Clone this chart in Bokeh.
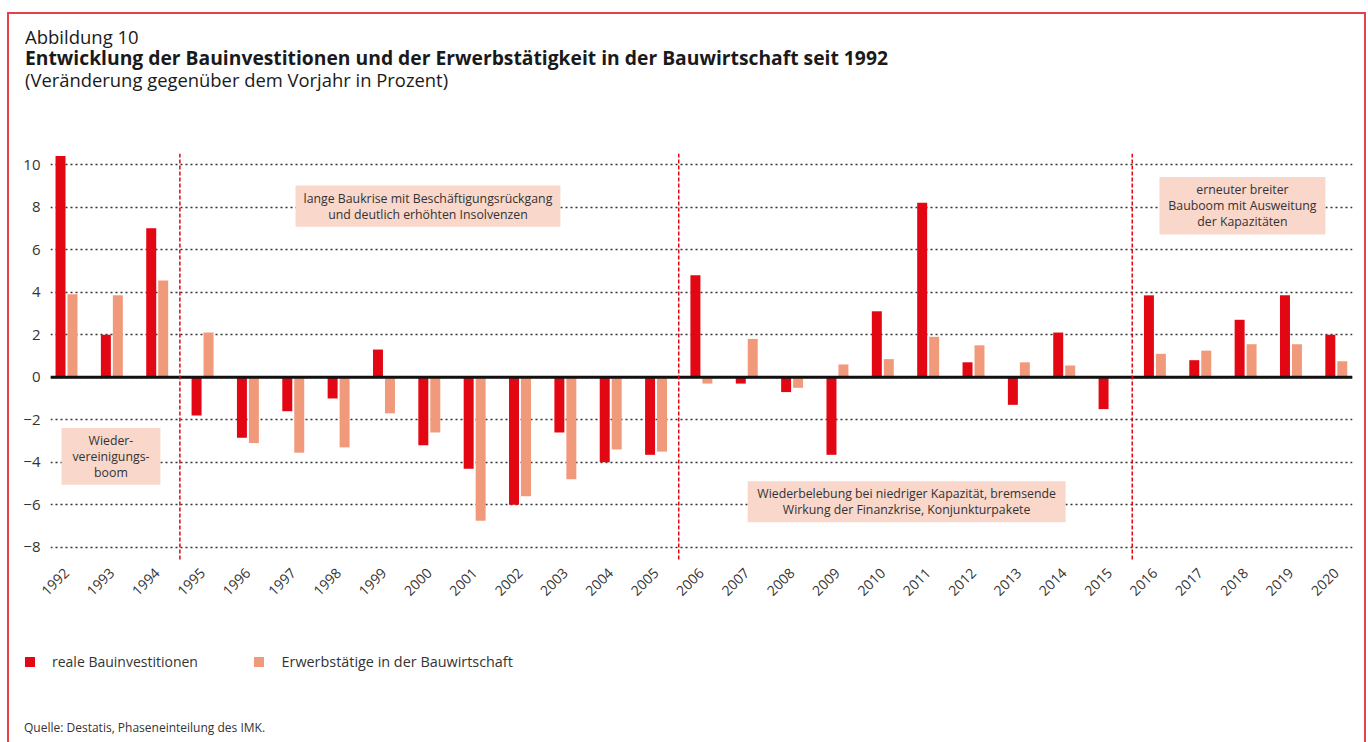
import math
from bokeh.plotting import figure
from bokeh.layouts import column
from bokeh.models import (Range1d, FixedTicker, CustomJSTickFormatter, Span,
                          BoxAnnotation, Label, ColumnDataSource, Div)
from bokeh.transform import dodge
from bokeh.embed import file_html
from bokeh.resources import INLINE

# ---------------- data ----------------
years = [1992, 1993, 1994, 1995, 1996, 1997, 1998, 1999, 2000, 2001,
         2002, 2003, 2004, 2005, 2006, 2007, 2008, 2009, 2010, 2011,
         2012, 2013, 2014, 2015, 2016, 2017, 2018, 2019, 2020]
invest = [10.4, 2.0, 7.0, -1.8, -2.85, -1.6, -1.0, 1.3, -3.2, -4.3,
          -6.0, -2.6, -4.0, -3.65, 4.8, -0.3, -0.7, -3.65, 3.1, 8.2,
          0.7, -1.3, 2.1, -1.5, 3.85, 0.8, 2.7, 3.85, 2.0]
employ = [3.9, 3.85, 4.55, 2.1, -3.1, -3.55, -3.3, -1.7, -2.6, -6.75,
          -5.6, -4.8, -3.4, -3.5, -0.3, 1.8, -0.5, 0.6, 0.85, 1.9,
          1.5, 0.7, 0.55, 0.0, 1.1, 1.25, 1.55, 1.55, 0.75]
y_ticks = [-8, -6, -4, -2, 0, 2, 4, 6, 8, 10]
phase_breaks = [1994.5, 2005.5, 2015.5]

series_names = ["reale Bauinvestitionen", "Erwerbstätige in der Bauwirtschaft"]
title_small = "Abbildung 10"
title_bold = "Entwicklung der Bauinvestitionen und der Erwerbstätigkeit in der Bauwirtschaft seit 1992"
subtitle = "(Veränderung gegenüber dem Vorjahr in Prozent)"
source_note = "Quelle: Destatis, Phaseneinteilung des IMK."

phase_texts = ["Wieder-\nvereinigungs-\nboom",
               "lange Baukrise mit Beschäftigungsrückgang\nund deutlich erhöhten Insolvenzen",
               "Wiederbelebung bei niedriger Kapazität, bremsende\nWirkung der Finanzkrise, Konjunkturpakete",
               "erneuter breiter\nBauboom mit Ausweitung\nder Kapazitäten"]

# ---------------- style ----------------
FONT = "Open Sans"
RED = "#e30613"
SALMON = "#f19a7b"
BOX = "#f9d7ca"
TXT = "#333333"
FRAME = "#e5414b"
W = 1368
H_TOP, H_MID, H_BOT = 145, 480, 117


def abs_text(txt, left, top, size, weight="normal", color="#1a1a1a"):
    return (f'<div style="position:absolute;left:{left}px;top:{top}px;'
            f'font-size:{size}px;line-height:1;font-weight:{weight};'
            f'color:{color};white-space:nowrap;">{txt}</div>')


def abs_square(left, top, color):
    return (f'<div style="position:absolute;left:{left}px;top:{top}px;'
            f'width:10px;height:10px;background:{color};"></div>')


# ---------------- header ----------------
header_html = (f'<div style="position:relative;width:{W}px;height:{H_TOP}px;'
               f"font-family:'{FONT}';\">"
               + abs_text(title_small, 25, 28.1, 18.5)
               + abs_text(title_bold, 25, 47.9, 19.3, weight="bold")
               + abs_text(subtitle, 25, 70.7, 18.4)
               + '</div>')
header = Div(text=header_html, width=W, height=H_TOP, margin=0)

# ---------------- chart ----------------
src = ColumnDataSource(data=dict(year=years, invest=invest, employ=employ))

p = figure(width=W, height=H_MID, output_backend="svg", toolbar_location=None,
           x_range=Range1d(1991.647, 2020.357), y_range=Range1d(-8.62, 10.52),
           min_border_left=50, min_border_right=16, min_border_top=8,
           min_border_bottom=65)
p.outline_line_color = None
p.background_fill_color = "white"
p.border_fill_alpha = 0

p.xaxis.ticker = FixedTicker(ticks=years)
p.xaxis.major_label_orientation = math.pi / 4
p.xaxis.axis_line_color = None
p.xaxis.major_tick_line_color = None
p.xaxis.minor_tick_line_color = None
p.xaxis.major_tick_out = 0
p.xaxis.major_tick_in = 0
p.xaxis.minor_tick_out = 0
p.xaxis.major_label_standoff = 10
p.xaxis.major_label_text_font = FONT
p.xaxis.major_label_text_font_size = "14px"
p.xaxis.major_label_text_color = TXT

p.yaxis.ticker = FixedTicker(ticks=y_ticks)
p.yaxis.formatter = CustomJSTickFormatter(
    code="return tick < 0 ? '\\u2212' + Math.abs(tick) : String(tick);")
p.yaxis.axis_line_color = None
p.yaxis.major_tick_line_color = None
p.yaxis.minor_tick_line_color = None
p.yaxis.major_tick_out = 0
p.yaxis.major_tick_in = 0
p.yaxis.minor_tick_out = 0
p.yaxis.major_label_standoff = 10
p.yaxis.major_label_text_font = FONT
p.yaxis.major_label_text_font_size = "15px"
p.yaxis.major_label_text_color = TXT

p.xgrid.visible = False
p.ygrid.ticker = FixedTicker(ticks=y_ticks)
p.ygrid.grid_line_color = "#333333"
p.ygrid.grid_line_dash = "2 3"
p.ygrid.grid_line_width = 1.5

p.vbar(x=dodge("year", -0.132, range=p.x_range), top="invest", width=0.22,
       source=src, fill_color=RED, line_color=None)
p.vbar(x=dodge("year", 0.132, range=p.x_range), top="employ", width=0.22,
       source=src, fill_color=SALMON, line_color=None)

p.add_layout(Span(location=0, dimension="width", line_color="#111111", line_width=3))
for b in phase_breaks:
    p.add_layout(Span(location=b, dimension="height", line_color=RED,
                      line_dash="4 2", line_width=1.5))

boxes = [
    (1991.89, 1994.07, -2.39, -5.06),
    (1997.05, 2002.89, 9.01, 7.08),
    (2007.02, 2014.03, -4.89, -6.82),
    (2016.10, 2019.76, 9.42, 6.71),
]
for (l, r, t, b), txt in zip(boxes, phase_texts):
    p.add_layout(BoxAnnotation(left=l, right=r, top=t, bottom=b,
                               fill_color=BOX, fill_alpha=1.0, line_color=None))
    p.add_layout(Label(x=(l + r) / 2, y=(t + b) / 2, text=txt,
                       text_align="center", text_baseline="middle",
                       text_font=FONT, text_font_size="12.3px",
                       text_color=TXT, text_line_height=0.95))

# ---------------- footer: legend + source ----------------
footer_html = (f'<div style="position:relative;width:{W}px;height:{H_BOT}px;'
               f"font-family:'{FONT}';\">"
               + abs_square(25, 32.3, RED)
               + abs_text(series_names[0], 52, 30.1, 14, color=TXT)
               + abs_square(254, 32.3, SALMON)
               + abs_text(series_names[1], 281.5, 30.0, 14.4, color=TXT)
               + abs_text(source_note, 24, 97.3, 12, color=TXT)
               + '</div>')
footer = Div(text=footer_html, width=W, height=H_BOT, margin=0)

# red frame drawn behind the transparent parts
shadow = ("inset 7px 0 0 0 white, inset 0 12px 0 0 white, inset -2px 0 0 0 white, "
          f"inset 9px 0 0 0 {FRAME}, inset 0 14px 0 0 {FRAME}, inset -4px 0 0 0 {FRAME}")
layout = column(header, p, footer, spacing=0,
                styles={"box-shadow": shadow, "background-color": "white"})

open("out.html", "w").write(file_html(layout, INLINE))
